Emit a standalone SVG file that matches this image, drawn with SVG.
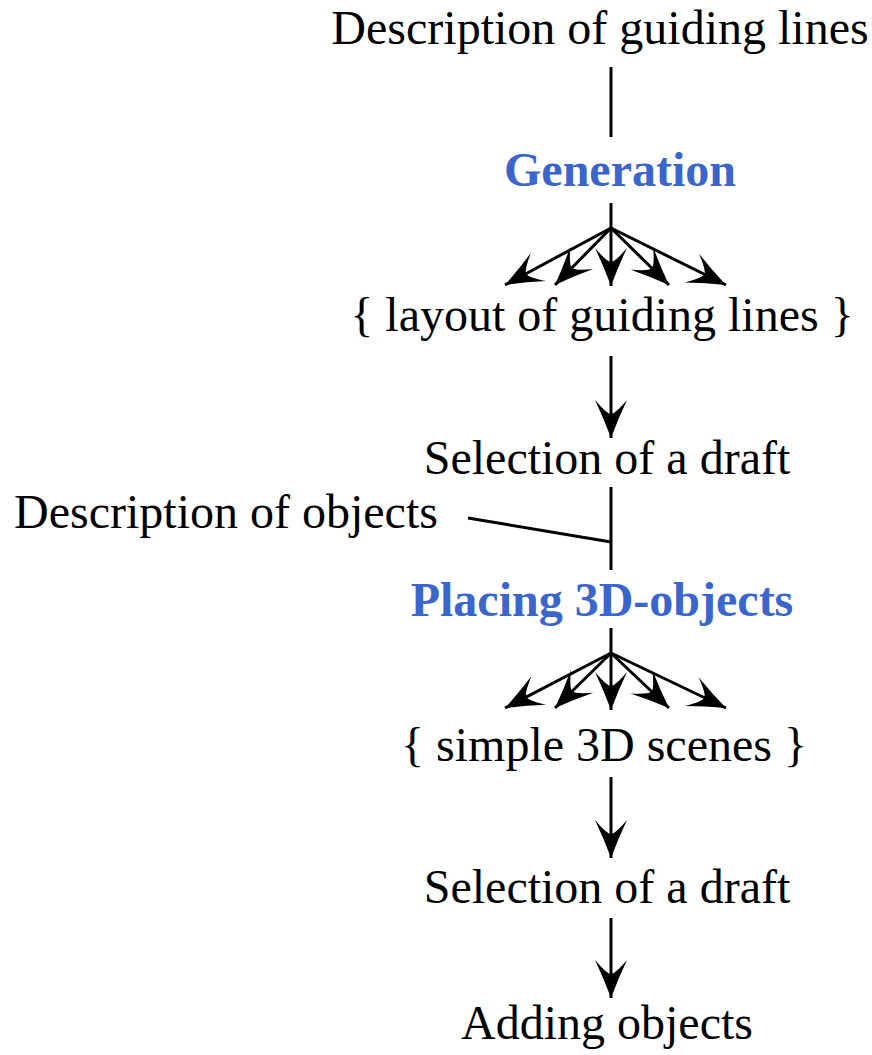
<svg xmlns="http://www.w3.org/2000/svg" width="872" height="1055" viewBox="0 0 872 1055">
<style>
.t{font-size:48px;fill:#000;text-anchor:middle}
.op{font-weight:bold;fill:#3a66cc}
.c line{stroke:#000;stroke-width:3;fill:none}
.a{marker-end:url(#ah)}
</style>
<defs>
<marker id="ah" markerUnits="userSpaceOnUse" markerWidth="44" markerHeight="44" viewBox="-42 -22 44 44" refX="0" refY="0" orient="auto" overflow="visible">
<path d="M0,0 Q-19,-7 -38,-16 Q-24,-4 -24,0 Q-24,4 -38,16 Q-19,7 0,0 Z" fill="#000"/>
</marker>
</defs>
<g font-family="Liberation Serif, serif">
<g id="n1"><text class="t" x="600" y="44">Description of guiding lines</text></g>
<g id="n2"><text class="t op" x="620" y="186">Generation</text></g>
<g id="n3"><text class="t" x="602" y="331">{ layout of guiding lines }</text></g>
<g id="n4"><text class="t" x="607" y="474">Selection of a draft</text></g>
<g id="n5"><text class="t" x="226" y="528">Description of objects</text></g>
<g id="n6"><text class="t op" x="602" y="616">Placing 3D-objects</text></g>
<g id="n7"><text class="t" x="604" y="761">{ simple 3D scenes }</text></g>
<g id="n8"><text class="t" x="607" y="903">Selection of a draft</text></g>
<g id="n9"><text class="t" x="607" y="1039">Adding objects</text></g>
</g>
<g id="connectors" class="c">
<line x1="611" y1="67" x2="611" y2="137"/>
<line x1="611" y1="203" x2="611" y2="228"/>
<line class="a" x1="611" y1="228" x2="505" y2="285"/>
<line class="a" x1="611" y1="228" x2="555" y2="285"/>
<line class="a" x1="611" y1="228" x2="611" y2="286"/>
<line class="a" x1="611" y1="228" x2="669" y2="285"/>
<line class="a" x1="611" y1="228" x2="726" y2="285"/>
<line class="a" x1="611" y1="356" x2="611" y2="438"/>
<line x1="611" y1="487" x2="611" y2="570"/>
<line x1="468" y1="518" x2="611" y2="542"/>
<line x1="611" y1="628" x2="611" y2="653"/>
<line class="a" x1="611" y1="653" x2="505" y2="708"/>
<line class="a" x1="611" y1="653" x2="555" y2="708"/>
<line class="a" x1="611" y1="653" x2="611" y2="710"/>
<line class="a" x1="611" y1="653" x2="669" y2="708"/>
<line class="a" x1="611" y1="653" x2="726" y2="708"/>
<line class="a" x1="611" y1="777" x2="611" y2="858"/>
<line class="a" x1="611" y1="918" x2="611" y2="998"/>
</g>
</svg>
